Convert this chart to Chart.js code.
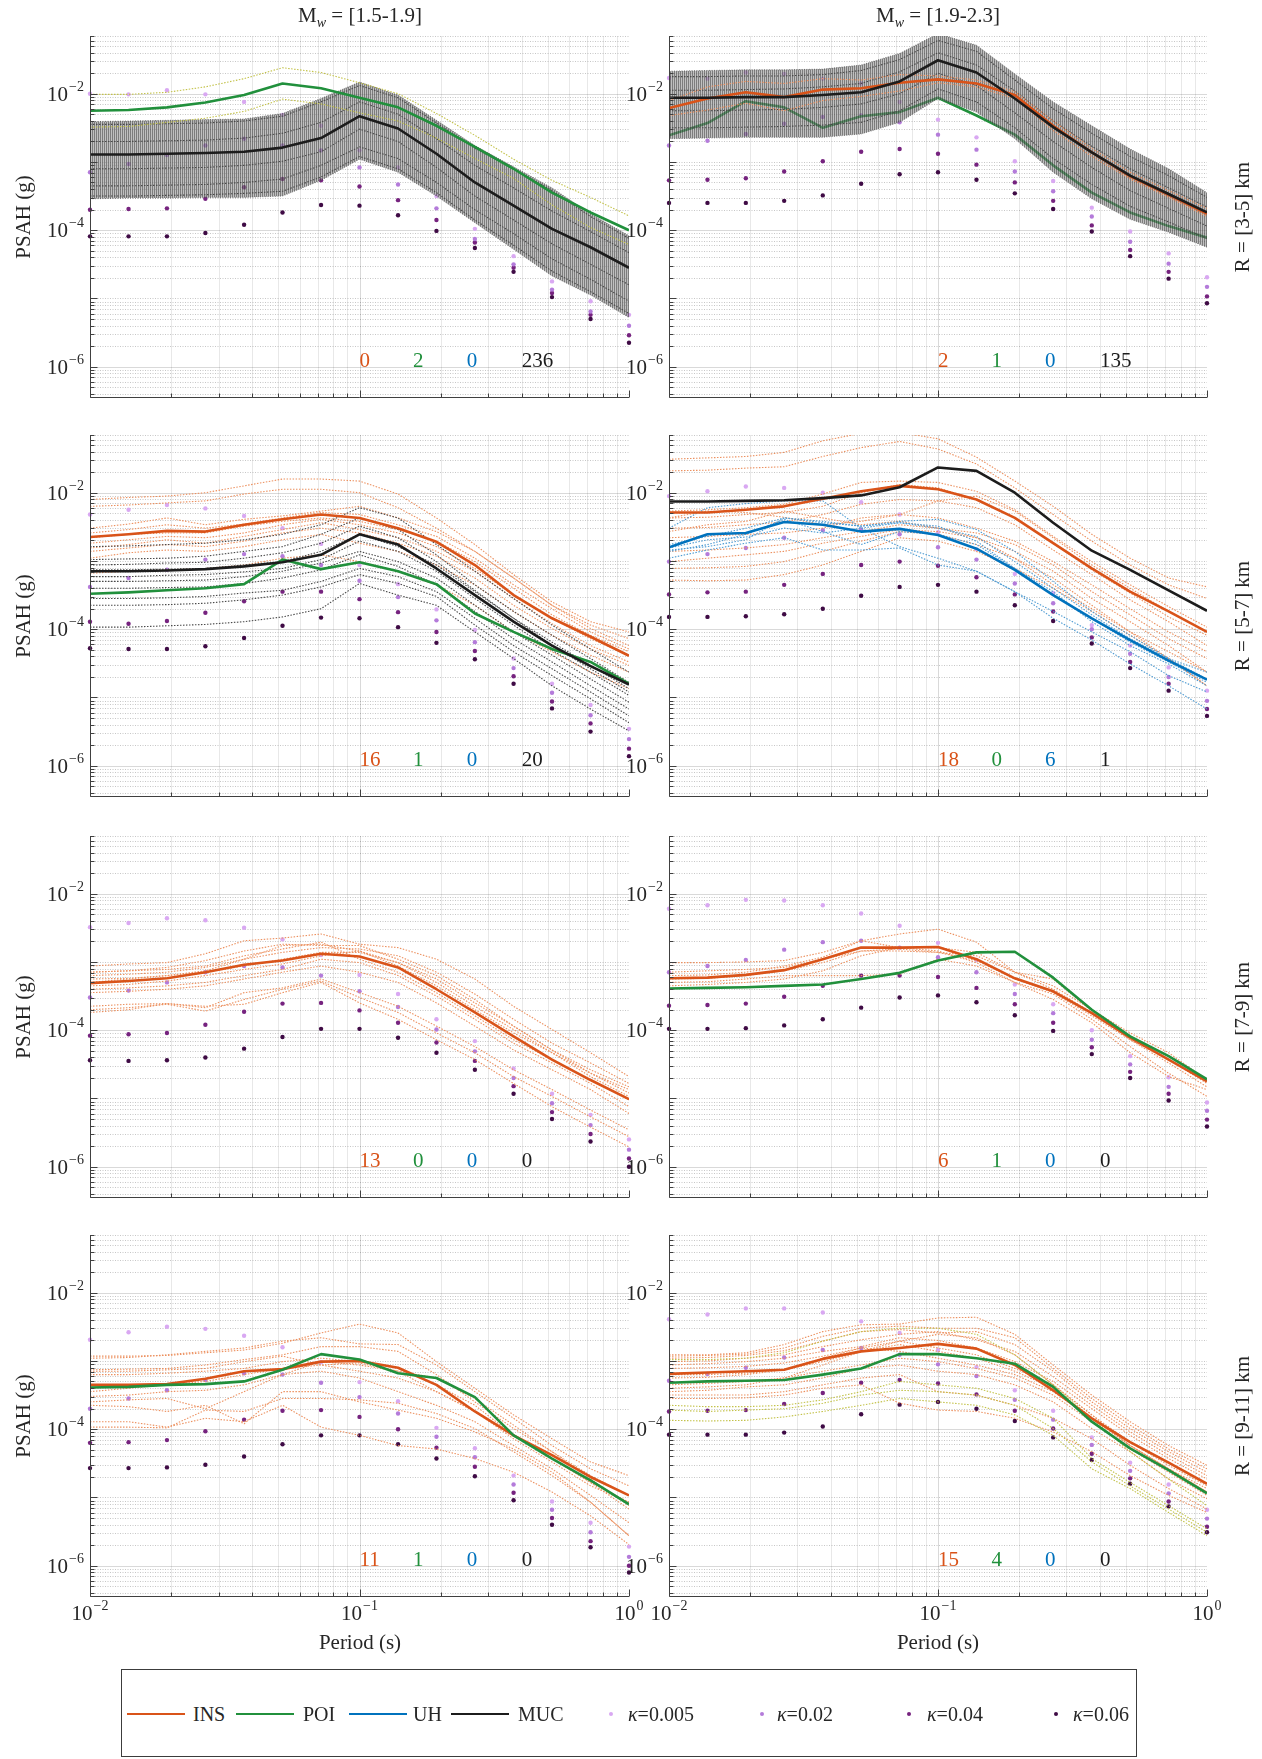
<!DOCTYPE html>
<html>
<head>
<meta charset="utf-8">
<script src="https://cdn.jsdelivr.net/npm/chart.js@4.4.1/dist/chart.umd.min.js"></script>
<style>
  body { margin: 0; background: #fff; width: 1262px; height: 1759px; position: relative; overflow: hidden;
         font-family: "Liberation Serif", "DejaVu Serif", serif; color: #262626; }
  canvas { position: absolute; }
  .lbl { position: absolute; font-size: 21px; white-space: nowrap; transform: translate(-50%, -50%); }
  .rot { transform: translate(-50%, -50%) rotate(-90deg); }
  .lg { position: absolute; font-size: 20px; white-space: nowrap; transform: translateY(-50%); }
  .lgline { position: absolute; height: 0; border-top: 2.5px solid; transform: translateY(-50%); }
  .lgdot { position: absolute; width: 4px; height: 4px; border-radius: 50%; transform: translate(-50%, -50%); }
</style>
</head>
<body>
<script>
// periods (s) of the spectral ordinates
const periods = [0.01, 0.0139, 0.0193, 0.0268, 0.0373, 0.0518, 0.072, 0.1, 0.139, 0.193, 0.268, 0.373, 0.518, 0.72, 1.0];

// all values below are log10(PSAH in g)
// ---- R = [3-5] km, Mw = [1.5-1.9]
const p11K005 = [-2.00,-2.01,-1.95,-2.01,-2.12,-2.31,-2.47,-2.83,-3.08,-3.50,-3.98,-4.38,-4.75,-5.04,-5.24];
const p11K02  = [-3.15,-3.03,-2.90,-2.76,-2.66,-2.76,-2.83,-3.08,-3.33,-3.68,-4.13,-4.50,-4.87,-5.19,-5.40];
const p11K04  = [-3.70,-3.69,-3.68,-3.54,-3.37,-3.25,-3.27,-3.36,-3.56,-3.85,-4.18,-4.55,-4.92,-5.24,-5.54];
const p11K06  = [-4.09,-4.09,-4.09,-4.04,-3.92,-3.74,-3.63,-3.64,-3.78,-4.01,-4.26,-4.61,-4.98,-5.30,-5.65];
const p11MucMedian = [-2.89,-2.89,-2.88,-2.87,-2.85,-2.79,-2.65,-2.33,-2.51,-2.88,-3.30,-3.64,-3.98,-4.25,-4.55];
const p11MucHigh = [-2.41,-2.40,-2.39,-2.38,-2.37,-2.29,-2.07,-1.83,-2.02,-2.39,-2.76,-3.07,-3.38,-3.76,-4.08];
const p11MucLow  = [-3.54,-3.53,-3.53,-3.52,-3.52,-3.50,-3.27,-2.96,-3.15,-3.50,-3.89,-4.28,-4.67,-4.95,-5.28];
const p11MucRecords = [
  [-2.45,-2.45,-2.44,-2.43,-2.40,-2.33,-2.12,-1.88,-2.06,-2.43,-2.80,-3.10,-3.42,-3.80,-4.12],
  [-2.70,-2.70,-2.69,-2.68,-2.65,-2.58,-2.42,-2.12,-2.30,-2.66,-3.05,-3.38,-3.72,-4.02,-4.33],
  [-3.10,-3.10,-3.09,-3.08,-3.05,-2.99,-2.85,-2.52,-2.70,-3.08,-3.50,-3.85,-4.20,-4.50,-4.80],
  [-3.35,-3.35,-3.34,-3.33,-3.30,-3.25,-3.05,-2.78,-2.95,-3.30,-3.70,-4.05,-4.42,-4.72,-5.04],
  [-3.50,-3.50,-3.49,-3.48,-3.46,-3.43,-3.22,-2.92,-3.10,-3.45,-3.85,-4.22,-4.60,-4.90,-5.22]
];
const p11PoiMedian = [-2.25,-2.24,-2.20,-2.13,-2.02,-1.85,-1.92,-2.06,-2.20,-2.47,-2.78,-3.10,-3.45,-3.74,-4.00];
const p11PoiRecords = [
  [-2.01,-2.01,-1.98,-1.90,-1.78,-1.62,-1.69,-1.84,-2.00,-2.29,-2.61,-2.96,-3.27,-3.52,-3.79],
  [-2.49,-2.48,-2.42,-2.36,-2.26,-2.08,-2.15,-2.28,-2.40,-2.65,-2.95,-3.24,-3.63,-3.96,-4.21]
];

// ---- R = [3-5] km, Mw = [1.9-2.3]
const p12K005 = [-1.77,-1.78,-1.69,-1.71,-1.78,-1.85,-2.12,-2.38,-2.64,-2.99,-3.28,-3.67,-4.02,-4.34,-4.69];
const p12K02  = [-2.76,-2.69,-2.59,-2.44,-2.34,-2.32,-2.42,-2.60,-2.82,-3.14,-3.43,-3.80,-4.17,-4.49,-4.83];
const p12K04  = [-3.27,-3.26,-3.24,-3.14,-2.99,-2.85,-2.81,-2.88,-3.04,-3.30,-3.57,-3.93,-4.29,-4.61,-4.97];
const p12K06  = [-3.60,-3.60,-3.60,-3.57,-3.49,-3.32,-3.18,-3.15,-3.26,-3.46,-3.69,-4.02,-4.38,-4.71,-5.07];
const p12MucMedian = [-2.06,-2.06,-2.05,-2.05,-2.02,-1.98,-1.82,-1.51,-1.69,-2.07,-2.49,-2.86,-3.20,-3.47,-3.74];
const p12MucHigh = [-1.67,-1.66,-1.65,-1.65,-1.64,-1.58,-1.41,-1.12,-1.29,-1.71,-2.12,-2.47,-2.81,-3.10,-3.45];
const p12MucLow  = [-2.66,-2.65,-2.64,-2.64,-2.64,-2.59,-2.42,-2.07,-2.27,-2.66,-3.15,-3.54,-3.84,-4.03,-4.25];
const p12MucRecords = [
  [-1.75,-1.75,-1.74,-1.74,-1.72,-1.66,-1.50,-1.22,-1.38,-1.80,-2.22,-2.58,-2.92,-3.20,-3.52],
  [-1.95,-1.95,-1.94,-1.93,-1.90,-1.85,-1.68,-1.40,-1.58,-1.96,-2.40,-2.77,-3.10,-3.38,-3.66],
  [-2.25,-2.25,-2.24,-2.23,-2.20,-2.15,-2.00,-1.70,-1.88,-2.28,-2.70,-3.08,-3.42,-3.68,-3.94],
  [-2.50,-2.50,-2.49,-2.48,-2.46,-2.42,-2.25,-1.93,-2.12,-2.50,-2.95,-3.33,-3.65,-3.88,-4.12]
];
const p12InsMedian = [-2.21,-2.07,-1.98,-2.05,-1.94,-1.92,-1.84,-1.79,-1.85,-2.02,-2.47,-2.86,-3.21,-3.48,-3.76];
const p12InsRecords = [
  [-2.10,-1.90,-1.82,-1.85,-1.78,-1.80,-1.72,-1.74,-1.80,-1.97,-2.40,-2.80,-3.15,-3.42,-3.68],
  [-2.32,-2.24,-2.14,-2.25,-2.10,-2.04,-1.96,-1.84,-1.90,-2.07,-2.54,-2.92,-3.25,-3.52,-3.80]
];
const p12PoiMedian = [-2.61,-2.43,-2.11,-2.20,-2.50,-2.33,-2.27,-2.06,-2.32,-2.60,-3.05,-3.45,-3.74,-3.94,-4.11];

// ---- R = [5-7] km, Mw = [1.5-1.9]
const p21K005 = [-2.32,-2.25,-2.18,-2.23,-2.34,-2.52,-2.75,-3.06,-3.34,-3.71,-4.01,-4.43,-4.80,-5.11,-5.46];
const p21K02  = [-3.38,-3.25,-3.13,-2.98,-2.90,-2.93,-3.06,-3.29,-3.53,-3.87,-4.19,-4.57,-4.93,-5.26,-5.61];
const p21K04  = [-3.89,-3.92,-3.88,-3.76,-3.59,-3.45,-3.45,-3.56,-3.75,-4.04,-4.32,-4.69,-5.06,-5.38,-5.75];
const p21K06  = [-4.28,-4.29,-4.29,-4.25,-4.13,-3.95,-3.83,-3.84,-3.97,-4.20,-4.44,-4.80,-5.16,-5.50,-5.86];
const p21InsMedian = [-2.65,-2.61,-2.56,-2.57,-2.47,-2.39,-2.32,-2.37,-2.52,-2.72,-3.06,-3.50,-3.84,-4.11,-4.39];
const p21InsRecords = [
  [-2.10,-2.07,-2.05,-2.00,-1.90,-1.80,-1.80,-1.83,-2.02,-2.37,-2.76,-3.20,-3.60,-3.89,-4.04],
  [-2.20,-2.18,-2.15,-2.12,-2.02,-1.95,-1.95,-2.00,-2.22,-2.52,-2.86,-3.25,-3.65,-3.94,-4.14],
  [-2.52,-2.46,-2.37,-2.47,-2.39,-2.34,-2.27,-2.20,-2.37,-2.57,-2.86,-3.25,-3.65,-3.99,-4.24],
  [-2.59,-2.54,-2.47,-2.52,-2.46,-2.37,-2.29,-2.32,-2.47,-2.64,-2.96,-3.35,-3.70,-4.04,-4.29],
  [-2.66,-2.61,-2.59,-2.59,-2.49,-2.42,-2.37,-2.42,-2.54,-2.71,-3.01,-3.40,-3.79,-4.09,-4.33],
  [-2.74,-2.69,-2.64,-2.66,-2.59,-2.47,-2.39,-2.47,-2.59,-2.79,-3.11,-3.50,-3.84,-4.14,-4.38],
  [-2.81,-2.76,-2.69,-2.74,-2.64,-2.54,-2.44,-2.54,-2.66,-2.86,-3.15,-3.55,-3.92,-4.24,-4.48],
  [-2.86,-2.81,-2.76,-2.79,-2.71,-2.59,-2.52,-2.59,-2.74,-2.93,-3.25,-3.65,-3.99,-4.29,-4.53],
  [-2.96,-2.88,-2.84,-2.86,-2.79,-2.69,-2.61,-2.74,-2.86,-3.06,-3.35,-3.74,-4.09,-4.38,-4.63],
  [-3.18,-3.15,-3.13,-3.11,-3.06,-2.96,-2.91,-3.01,-3.15,-3.35,-3.65,-4.04,-4.33,-4.63,-4.87]
];
const p21MucMedian = [-3.15,-3.15,-3.14,-3.12,-3.08,-3.02,-2.91,-2.61,-2.76,-3.11,-3.50,-3.89,-4.24,-4.54,-4.81];
const p21MucRecords = [
  [-2.79,-2.78,-2.76,-2.74,-2.69,-2.61,-2.47,-2.22,-2.37,-2.76,-3.15,-3.55,-3.94,-4.29,-4.63],
  [-2.98,-2.97,-2.96,-2.93,-2.86,-2.79,-2.61,-2.37,-2.54,-2.91,-3.35,-3.74,-4.09,-4.43,-4.78],
  [-3.06,-3.05,-3.03,-3.02,-2.96,-2.88,-2.74,-2.49,-2.66,-3.01,-3.43,-3.84,-4.19,-4.53,-4.87],
  [-3.13,-3.13,-3.12,-3.11,-3.06,-3.01,-2.86,-2.61,-2.79,-3.06,-3.45,-3.84,-4.24,-4.58,-4.92],
  [-3.23,-3.23,-3.21,-3.20,-3.16,-3.11,-2.98,-2.71,-2.86,-3.15,-3.55,-3.94,-4.31,-4.63,-4.97],
  [-3.30,-3.30,-3.29,-3.28,-3.23,-3.15,-3.03,-2.86,-3.01,-3.25,-3.65,-4.04,-4.38,-4.73,-5.07],
  [-3.40,-3.40,-3.39,-3.38,-3.33,-3.25,-3.13,-2.91,-3.08,-3.35,-3.74,-4.14,-4.48,-4.83,-5.17],
  [-3.55,-3.55,-3.54,-3.52,-3.47,-3.43,-3.30,-3.11,-3.23,-3.45,-3.84,-4.24,-4.58,-4.92,-5.27],
  [-3.65,-3.65,-3.64,-3.62,-3.57,-3.50,-3.38,-3.20,-3.33,-3.52,-3.94,-4.33,-4.68,-5.02,-5.37],
  [-3.97,-3.97,-3.95,-3.93,-3.89,-3.82,-3.70,-3.33,-3.50,-3.65,-4.04,-4.43,-4.83,-5.17,-5.49]
];
const p21PoiMedian = [-3.48,-3.46,-3.43,-3.40,-3.34,-2.98,-3.12,-3.02,-3.15,-3.34,-3.77,-4.04,-4.29,-4.48,-4.80];

// ---- R = [5-7] km, Mw = [1.9-2.3]
const p22K005 = [-2.05,-1.98,-1.91,-1.93,-2.00,-2.14,-2.32,-2.58,-2.83,-3.19,-3.47,-3.94,-4.24,-4.56,-4.90];
const p22K02  = [-3.01,-2.90,-2.81,-2.66,-2.55,-2.54,-2.61,-2.80,-2.98,-3.33,-3.62,-4.00,-4.36,-4.70,-5.05];
const p22K04  = [-3.49,-3.46,-3.45,-3.35,-3.19,-3.06,-3.01,-3.07,-3.24,-3.49,-3.74,-4.12,-4.48,-4.80,-5.17];
const p22K06  = [-3.82,-3.82,-3.81,-3.78,-3.70,-3.51,-3.38,-3.35,-3.45,-3.65,-3.88,-4.21,-4.57,-4.90,-5.27];
const p22MucMedian = [-2.13,-2.13,-2.12,-2.11,-2.08,-2.04,-1.92,-1.63,-1.68,-2.00,-2.44,-2.85,-3.13,-3.43,-3.73];
const p22InsMedian = [-2.29,-2.29,-2.25,-2.20,-2.09,-1.98,-1.90,-1.95,-2.10,-2.37,-2.74,-3.11,-3.45,-3.74,-4.04];
const p22InsRecords = [
  [-1.51,-1.49,-1.47,-1.41,-1.24,-1.13,-1.12,-1.21,-1.48,-1.83,-2.20,-2.61,-2.96,-3.25,-3.38],
  [-1.68,-1.67,-1.64,-1.62,-1.47,-1.34,-1.25,-1.36,-1.58,-1.93,-2.32,-2.71,-3.06,-3.35,-3.55],
  [-2.27,-2.25,-2.22,-2.17,-2.02,-1.85,-1.83,-1.85,-1.98,-2.25,-2.64,-3.01,-3.35,-3.67,-3.97],
  [-2.37,-2.36,-2.32,-2.29,-2.20,-2.00,-1.88,-1.93,-2.10,-2.37,-2.74,-3.13,-3.47,-3.82,-4.09],
  [-2.52,-2.51,-2.47,-2.43,-2.32,-2.17,-2.10,-2.12,-2.22,-2.47,-2.84,-3.20,-3.57,-3.89,-4.24],
  [-2.66,-2.64,-2.61,-2.59,-2.52,-2.37,-2.32,-2.37,-2.52,-2.71,-3.01,-3.35,-3.70,-4.04,-4.33],
  [-2.86,-2.84,-2.81,-2.76,-2.66,-2.57,-2.47,-2.52,-2.59,-2.76,-3.06,-3.45,-3.79,-4.14,-4.43],
  [-3.01,-2.96,-2.91,-2.86,-2.74,-2.64,-2.54,-2.57,-2.66,-2.86,-3.15,-3.55,-3.89,-4.24,-4.63],
  [-3.11,-3.10,-3.08,-3.01,-2.86,-2.71,-2.57,-2.61,-2.76,-2.96,-3.25,-3.65,-4.04,-4.43,-4.83],
  [-3.28,-3.29,-3.28,-3.20,-3.06,-2.86,-2.66,-2.71,-2.86,-3.11,-3.40,-3.74,-4.09,-4.43,-4.83],
  [-2.37,-2.27,-2.29,-2.36,-2.47,-2.42,-2.32,-2.12,-2.05,-2.27,-2.66,-3.06,-3.40,-3.74,-4.04],
  [-2.57,-2.47,-2.42,-2.27,-2.37,-2.47,-2.42,-2.52,-2.66,-2.96,-3.35,-3.70,-4.04,-4.33,-4.63]
];
const p22UhMedian = [-2.80,-2.61,-2.59,-2.43,-2.47,-2.57,-2.53,-2.62,-2.82,-3.13,-3.50,-3.84,-4.16,-4.46,-4.74];
const p22UhRecords = [
  [-2.84,-2.79,-2.69,-2.37,-2.44,-2.49,-2.42,-2.39,-2.54,-2.86,-3.30,-3.74,-4.09,-4.43,-4.73],
  [-2.52,-2.22,-2.16,-2.12,-2.12,-2.52,-2.79,-2.96,-3.15,-3.45,-3.84,-4.16,-4.51,-4.83,-5.17],
  [-2.86,-2.76,-2.61,-2.39,-2.57,-2.76,-2.57,-2.61,-2.76,-3.11,-3.45,-3.89,-4.24,-4.51,-4.83],
  [-2.81,-2.69,-2.65,-2.52,-2.59,-2.52,-2.44,-2.52,-2.64,-3.01,-3.40,-3.79,-4.14,-4.43,-4.63],
  [-2.96,-2.84,-2.74,-2.66,-2.84,-2.84,-2.81,-3.06,-3.15,-3.45,-3.74,-4.04,-4.33,-4.68,-4.92],
  [-2.76,-2.64,-2.52,-2.37,-2.42,-2.49,-2.44,-2.49,-2.71,-3.11,-3.50,-3.84,-4.19,-4.48,-4.78]
];

// ---- R = [7-9] km, Mw = [1.5-1.9]
const p31K005 = [-2.49,-2.43,-2.36,-2.39,-2.50,-2.67,-2.90,-3.19,-3.47,-3.84,-4.16,-4.56,-4.93,-5.24,-5.60];
const p31K02  = [-3.52,-3.42,-3.30,-3.15,-3.06,-3.08,-3.20,-3.43,-3.66,-3.99,-4.31,-4.70,-5.07,-5.39,-5.75];
const p31K04  = [-4.08,-4.06,-4.04,-3.92,-3.73,-3.61,-3.60,-3.71,-3.89,-4.18,-4.45,-4.82,-5.20,-5.52,-5.88];
const p31K06  = [-4.44,-4.45,-4.44,-4.40,-4.27,-4.10,-3.98,-3.98,-4.11,-4.33,-4.58,-4.93,-5.30,-5.63,-6.00];
const p31InsMedian = [-3.31,-3.28,-3.24,-3.15,-3.04,-2.98,-2.88,-2.92,-3.08,-3.40,-3.74,-4.09,-4.43,-4.73,-5.01];
const p31InsRecords = [
  [-3.06,-3.03,-3.01,-2.88,-2.69,-2.65,-2.59,-2.74,-2.79,-2.96,-3.25,-3.65,-3.99,-4.33,-4.68],
  [-3.15,-3.13,-3.08,-2.98,-2.84,-2.74,-2.76,-2.76,-2.96,-3.20,-3.55,-3.94,-4.29,-4.58,-4.83],
  [-3.20,-3.18,-3.15,-3.08,-2.96,-2.86,-2.79,-2.81,-2.91,-3.15,-3.47,-3.84,-4.19,-4.48,-4.78],
  [-3.25,-3.24,-3.20,-3.15,-3.06,-2.96,-2.86,-2.86,-3.01,-3.25,-3.60,-3.94,-4.29,-4.63,-4.92],
  [-3.35,-3.33,-3.28,-3.20,-3.11,-3.03,-2.91,-2.84,-3.06,-3.35,-3.70,-4.04,-4.33,-4.63,-4.87],
  [-3.40,-3.38,-3.35,-3.30,-3.20,-3.11,-2.96,-3.01,-3.20,-3.50,-3.84,-4.19,-4.48,-4.78,-5.12],
  [-3.45,-3.43,-3.40,-3.35,-3.25,-3.15,-3.06,-3.15,-3.30,-3.60,-3.94,-4.29,-4.58,-4.87,-5.22],
  [-3.65,-3.62,-3.61,-3.67,-3.45,-3.38,-3.25,-3.45,-3.65,-3.94,-4.24,-4.58,-4.87,-5.17,-5.46],
  [-3.70,-3.67,-3.62,-3.72,-3.55,-3.40,-3.28,-3.52,-3.74,-4.04,-4.33,-4.68,-4.97,-5.27,-5.56],
  [-3.74,-3.70,-3.61,-3.65,-3.62,-3.45,-3.30,-3.60,-3.84,-4.14,-4.43,-4.78,-5.12,-5.42,-5.71],
  [-3.15,-3.13,-3.11,-3.06,-2.91,-2.81,-2.71,-2.96,-3.15,-3.45,-3.79,-4.14,-4.43,-4.73,-5.02],
  [-3.30,-3.25,-3.20,-3.13,-2.96,-2.76,-2.74,-2.84,-3.01,-3.30,-3.65,-3.99,-4.33,-4.68,-4.97]
];

// ---- R = [7-9] km, Mw = [1.9-2.3]
const p32K005 = [-2.22,-2.17,-2.09,-2.10,-2.17,-2.29,-2.47,-2.72,-2.97,-3.33,-3.62,-4.00,-4.38,-4.69,-5.06];
const p32K02  = [-3.15,-3.06,-2.97,-2.82,-2.71,-2.69,-2.79,-2.93,-3.15,-3.47,-3.75,-4.14,-4.50,-4.83,-5.18];
const p32K04  = [-3.64,-3.63,-3.61,-3.51,-3.35,-3.20,-3.20,-3.22,-3.38,-3.62,-3.89,-4.25,-4.61,-4.93,-5.31];
const p32K06  = [-3.98,-3.98,-3.97,-3.93,-3.84,-3.67,-3.52,-3.49,-3.59,-3.78,-4.01,-4.35,-4.70,-5.03,-5.41];
const p32InsMedian = [-3.24,-3.23,-3.19,-3.12,-2.96,-2.79,-2.79,-2.78,-2.96,-3.24,-3.43,-3.75,-4.11,-4.43,-4.75];
const p32InsRecords = [
  [-3.01,-3.01,-3.00,-2.98,-2.86,-2.69,-2.59,-2.52,-2.71,-3.15,-3.25,-3.72,-4.14,-4.43,-4.78],
  [-3.20,-3.19,-3.15,-3.06,-2.93,-2.69,-2.79,-2.79,-2.86,-3.15,-3.40,-3.74,-4.09,-4.38,-4.73],
  [-3.25,-3.24,-3.20,-3.13,-3.01,-2.84,-2.81,-2.86,-2.98,-3.25,-3.45,-3.79,-4.14,-4.48,-4.83],
  [-3.30,-3.29,-3.25,-3.20,-3.20,-3.20,-3.18,-2.96,-3.06,-3.30,-3.47,-3.84,-4.24,-4.63,-4.97],
  [-3.15,-3.13,-3.11,-3.08,-2.96,-2.84,-2.84,-2.86,-2.91,-3.15,-3.35,-3.70,-4.04,-4.33,-4.73],
  [-3.35,-3.33,-3.30,-3.25,-3.13,-2.91,-2.79,-2.84,-3.01,-3.30,-3.55,-3.89,-4.33,-4.68,-4.87]
];
const p32PoiMedian = [-3.39,-3.38,-3.37,-3.35,-3.33,-3.25,-3.16,-2.98,-2.86,-2.85,-3.23,-3.70,-4.09,-4.38,-4.72];

// ---- R = [9-11] km, Mw = [1.5-1.9]
const p41K005 = [-2.69,-2.58,-2.50,-2.53,-2.63,-2.80,-3.02,-3.31,-3.59,-3.98,-4.28,-4.68,-5.06,-5.37,-5.72];
const p41K02  = [-3.70,-3.55,-3.43,-3.28,-3.18,-3.20,-3.32,-3.53,-3.77,-4.11,-4.41,-4.81,-5.18,-5.51,-5.87];
const p41K04  = [-4.20,-4.19,-4.16,-4.03,-3.86,-3.73,-3.72,-3.82,-4.00,-4.27,-4.55,-4.93,-5.30,-5.64,-6.00];
const p41K06  = [-4.57,-4.57,-4.56,-4.52,-4.40,-4.22,-4.09,-4.09,-4.22,-4.43,-4.69,-5.04,-5.40,-5.73,-6.10];
const p41InsMedian = [-3.35,-3.35,-3.34,-3.26,-3.15,-3.12,-3.01,-3.00,-3.10,-3.35,-3.74,-4.09,-4.38,-4.70,-4.97];
const p41InsRecords = [
  [-2.93,-2.93,-2.92,-2.88,-2.84,-2.74,-2.59,-2.46,-2.59,-3.01,-3.40,-3.79,-4.14,-4.48,-4.68],
  [-2.96,-2.95,-2.91,-2.86,-2.81,-2.71,-2.66,-2.75,-2.76,-3.06,-3.45,-3.84,-4.24,-4.58,-4.83],
  [-3.13,-3.12,-3.11,-3.06,-2.98,-2.91,-2.79,-2.79,-2.86,-3.20,-3.60,-3.99,-4.33,-4.68,-4.97],
  [-3.15,-3.15,-3.13,-3.11,-3.01,-2.93,-3.06,-3.03,-3.15,-3.45,-3.74,-4.14,-4.48,-4.83,-5.07],
  [-3.20,-3.20,-3.18,-3.15,-3.11,-3.01,-2.96,-3.01,-3.11,-3.35,-3.65,-4.09,-4.43,-4.78,-5.07],
  [-3.45,-3.40,-3.35,-3.30,-3.20,-3.11,-3.06,-3.15,-3.25,-3.45,-3.74,-4.09,-4.43,-4.78,-5.17],
  [-3.52,-3.50,-3.45,-3.43,-3.35,-3.20,-3.01,-3.06,-3.15,-3.25,-3.55,-3.94,-4.33,-4.73,-5.12],
  [-3.60,-3.57,-3.55,-3.70,-3.45,-3.20,-3.15,-3.25,-3.45,-3.65,-3.89,-4.24,-4.58,-4.97,-5.37],
  [-3.65,-3.67,-3.74,-3.65,-3.92,-3.45,-3.45,-3.60,-3.72,-3.84,-4.04,-4.29,-4.63,-5.07,-5.56],
  [-3.89,-3.89,-3.97,-3.84,-3.89,-3.65,-3.97,-4.09,-4.24,-4.29,-4.43,-4.63,-4.92,-5.27,-5.69],
  [-3.97,-3.97,-3.98,-3.72,-3.74,-3.55,-3.55,-3.57,-3.62,-3.77,-3.99,-4.33,-4.68,-5.07,-5.56]
];
const p41PoiMedian = [-3.39,-3.38,-3.35,-3.34,-3.30,-3.13,-2.90,-2.98,-3.18,-3.25,-3.53,-4.09,-4.43,-4.75,-5.10];

// ---- R = [9-11] km, Mw = [1.9-2.3]
const p42K005 = [-2.39,-2.32,-2.23,-2.23,-2.29,-2.42,-2.59,-2.84,-3.09,-3.43,-3.73,-4.12,-4.49,-4.81,-5.18];
const p42K02  = [-3.29,-3.19,-3.10,-2.95,-2.84,-2.81,-2.91,-3.05,-3.22,-3.57,-3.86,-4.23,-4.61,-4.94,-5.31];
const p42K04  = [-3.74,-3.73,-3.72,-3.63,-3.47,-3.32,-3.28,-3.33,-3.49,-3.73,-3.99,-4.36,-4.72,-5.06,-5.43];
const p42K06  = [-4.08,-4.08,-4.08,-4.05,-3.96,-3.78,-3.64,-3.60,-3.70,-3.88,-4.12,-4.45,-4.80,-5.13,-5.51];
const p42InsMedian = [-3.19,-3.17,-3.15,-3.13,-2.97,-2.86,-2.81,-2.75,-2.82,-3.06,-3.43,-3.84,-4.19,-4.49,-4.80];
const p42InsRecords = [
  [-2.91,-2.91,-2.88,-2.76,-2.57,-2.47,-2.46,-2.37,-2.36,-2.61,-3.06,-3.50,-3.89,-4.24,-4.53],
  [-2.93,-2.92,-2.90,-2.81,-2.64,-2.52,-2.49,-2.52,-2.52,-2.66,-3.11,-3.55,-3.94,-4.29,-4.58],
  [-2.96,-2.95,-2.92,-2.85,-2.71,-2.57,-2.54,-2.59,-2.57,-2.76,-3.15,-3.60,-3.99,-4.33,-4.63],
  [-3.01,-3.00,-2.96,-2.91,-2.79,-2.69,-2.61,-2.57,-2.69,-2.86,-3.23,-3.65,-4.04,-4.38,-4.68],
  [-3.06,-3.04,-3.01,-2.96,-2.86,-2.79,-2.66,-2.70,-2.81,-3.01,-3.30,-3.70,-4.09,-4.43,-4.73],
  [-3.11,-3.10,-3.08,-3.03,-2.93,-2.81,-2.71,-2.81,-2.91,-3.11,-3.35,-3.79,-4.19,-4.53,-4.83],
  [-3.20,-3.20,-3.18,-3.13,-3.01,-2.86,-2.76,-2.86,-2.96,-3.15,-3.40,-3.84,-4.24,-4.58,-4.92],
  [-3.35,-3.33,-3.30,-3.25,-3.15,-3.06,-2.96,-3.01,-3.11,-3.25,-3.50,-3.89,-4.29,-4.63,-4.97],
  [-3.45,-3.43,-3.38,-3.35,-3.25,-3.11,-3.06,-3.15,-3.20,-3.35,-3.60,-3.99,-4.33,-4.73,-5.02],
  [-3.50,-3.50,-3.50,-3.45,-3.35,-3.25,-3.20,-3.45,-3.50,-3.65,-3.84,-4.14,-4.53,-4.87,-5.17],
  [-3.55,-3.55,-3.54,-3.50,-3.40,-3.35,-3.62,-3.72,-3.74,-3.84,-4.04,-4.33,-4.68,-4.97,-5.22],
  [-3.40,-3.38,-3.35,-3.25,-3.06,-2.86,-2.71,-2.61,-2.66,-2.91,-3.35,-3.79,-4.24,-4.58,-4.92],
  [-3.25,-3.24,-3.20,-3.13,-2.96,-2.81,-2.86,-2.96,-3.06,-3.20,-3.45,-3.84,-4.24,-4.58,-4.87]
];
const p42PoiMedian = [-3.32,-3.30,-3.29,-3.28,-3.20,-3.11,-2.90,-2.90,-2.96,-3.04,-3.38,-3.89,-4.28,-4.60,-4.94];
const p42PoiRecords = [
  [-2.98,-2.98,-2.96,-2.88,-2.71,-2.57,-2.52,-2.52,-2.61,-2.91,-3.35,-3.84,-4.33,-4.73,-5.12],
  [-3.65,-3.67,-3.67,-3.65,-3.57,-3.45,-3.30,-3.35,-3.40,-3.55,-3.84,-4.43,-4.78,-5.12,-5.46],
  [-3.72,-3.74,-3.72,-3.70,-3.62,-3.50,-3.43,-3.45,-3.50,-3.65,-3.99,-4.48,-4.83,-5.17,-5.51],
  [-3.87,-3.88,-3.87,-3.82,-3.74,-3.65,-3.55,-3.60,-3.65,-3.79,-4.09,-4.58,-4.87,-5.22,-5.56]
];

// number of records per network (INS, POI, UH, MUC)
const counts = [[0, 2, 0, 236], [2, 1, 0, 135], [16, 1, 0, 20], [18, 0, 6, 1],
                [13, 0, 0, 0], [6, 1, 0, 0], [11, 1, 0, 0], [15, 4, 0, 0]];
const magBins = ['[1.5-1.9]', '[1.9-2.3]'];
const distBins = ['[3-5]', '[5-7]', '[7-9]', '[9-11]'];
const kappaLabels = ['0.005', '0.02', '0.04', '0.06'];
const networks = ['INS', 'POI', 'UH', 'MUC'];

// colours
const INS = '#D95319', POI = '#21903C', UH = '#0072BD', MUC = '#1C1C1C';
const INS_REC = '#EC9160', POI_REC = '#C3C24A', UH_REC = '#4E9BD2', MUC_REC = '#4A4A4A';
const KAPPA_COLORS = ['#D9A8F2', '#B47BDA', '#76237F', '#3F0B45'];
const NET_COLORS = [INS, POI, UH, MUC];

// axes limits and count label placement
const X_MIN = 0.01, X_MAX = 1;
const Y_MIN = 3.6e-7, Y_MAX = 0.07;
const countX = [0.1, 0.158, 0.25, 0.4];
const countY = 1.2e-6;

const ROW_TOPS = [36, 435, 836, 1235];
const PLOT_H = 361;

const panels = [
  { dots: [p11K005, p11K02, p11K04, p11K06], band: [p11MucHigh, p11MucLow],
    records: [[POI_REC, p11PoiRecords], [MUC_REC, p11MucRecords]],
    medians: [[POI, p11PoiMedian], [MUC, p11MucMedian]] },
  { dots: [p12K005, p12K02, p12K04, p12K06], band: [p12MucHigh, p12MucLow],
    records: [[INS_REC, p12InsRecords], [MUC_REC, p12MucRecords]],
    medians: [[MUC, p12MucMedian], [INS, p12InsMedian], [POI, p12PoiMedian, 2.5]] },
  { dots: [p21K005, p21K02, p21K04, p21K06],
    records: [[MUC_REC, p21MucRecords], [INS_REC, p21InsRecords]],
    medians: [[MUC, p21MucMedian], [POI, p21PoiMedian], [INS, p21InsMedian]] },
  { dots: [p22K005, p22K02, p22K04, p22K06],
    records: [[UH_REC, p22UhRecords], [INS_REC, p22InsRecords]],
    medians: [[MUC, p22MucMedian], [UH, p22UhMedian], [INS, p22InsMedian]] },
  { dots: [p31K005, p31K02, p31K04, p31K06],
    records: [[INS_REC, p31InsRecords]],
    medians: [[INS, p31InsMedian]] },
  { dots: [p32K005, p32K02, p32K04, p32K06],
    records: [[INS_REC, p32InsRecords]],
    medians: [[POI, p32PoiMedian], [INS, p32InsMedian]] },
  { dots: [p41K005, p41K02, p41K04, p41K06],
    records: [[INS_REC, p41InsRecords]],
    medians: [[POI, p41PoiMedian], [INS, p41InsMedian]] },
  { dots: [p42K005, p42K02, p42K04, p42K06],
    records: [[POI_REC, p42PoiRecords], [INS_REC, p42InsRecords]],
    medians: [[POI, p42PoiMedian], [INS, p42InsMedian]] }
];

// grid / tick positions in data units
const xGrid = [], yGrid = [];
for (let e = -2; e <= 0; e++) for (let k = 1; k <= 9; k++) {
  const v = k * Math.pow(10, e);
  if (v >= X_MIN - 1e-12 && v <= X_MAX + 1e-12) xGrid.push({ v, major: k === 1 });
}
for (let e = -7; e <= -2; e++) for (let k = 1; k <= 9; k++) {
  const v = k * Math.pow(10, e);
  if (v >= Y_MIN && v <= Y_MAX) yGrid.push({ v, major: k === 1 && (e === -2 || e === -4 || e === -6) });
}

const SERIF = '"Liberation Serif", "DejaVu Serif", serif';

function drawPower(ctx, exp, x, yMid, align) {
  const base = '10', sup = exp < 0 ? '\u2212' + (-exp) : String(exp);
  ctx.font = '21px ' + SERIF;
  const w1 = ctx.measureText(base).width;
  ctx.font = '14px ' + SERIF;
  const w2 = ctx.measureText(sup).width;
  const x0 = align === 'right' ? x - w1 - w2 - 1 : x - (w1 + w2 + 1) / 2;
  ctx.textAlign = 'left';
  ctx.textBaseline = 'alphabetic';
  ctx.fillStyle = '#262626';
  ctx.font = '21px ' + SERIF;
  ctx.fillText(base, x0, yMid + 7);
  ctx.font = '14px ' + SERIF;
  ctx.fillText(sup, x0 + w1 + 1, yMid - 3);
}

const matlabAxes = {
  id: 'matlabAxes',
  beforeDatasetsDraw(chart) {
    const { ctx, chartArea: a, scales: { x, y } } = chart;
    ctx.save();
    ctx.beginPath();
    ctx.rect(a.left, a.top, a.right - a.left, a.bottom - a.top);
    ctx.clip();
    ctx.lineWidth = 1;
    // minor grid
    ctx.strokeStyle = 'rgba(0,0,0,0.09)';
    for (const g of xGrid) {
      if (g.major) continue;
      const px = Math.round(x.getPixelForValue(g.v)) + 0.5;
      ctx.beginPath(); ctx.moveTo(px, a.top); ctx.lineTo(px, a.bottom); ctx.stroke();
    }
    ctx.setLineDash([1, 1.5]);
    ctx.strokeStyle = 'rgba(0,0,0,0.22)';
    for (const g of yGrid) {
      if (g.major) continue;
      const py = Math.round(y.getPixelForValue(g.v)) + 0.5;
      ctx.beginPath(); ctx.moveTo(a.left, py); ctx.lineTo(a.right, py); ctx.stroke();
    }
    ctx.setLineDash([]);
    // major grid
    ctx.strokeStyle = 'rgba(0,0,0,0.15)';
    for (const g of xGrid) {
      if (!g.major) continue;
      const px = Math.round(x.getPixelForValue(g.v)) + 0.5;
      ctx.beginPath(); ctx.moveTo(px, a.top); ctx.lineTo(px, a.bottom); ctx.stroke();
    }
    for (const g of yGrid) {
      if (!g.major) continue;
      const py = Math.round(y.getPixelForValue(g.v)) + 0.5;
      ctx.beginPath(); ctx.moveTo(a.left, py); ctx.lineTo(a.right, py); ctx.stroke();
    }
    ctx.restore();
  },
  afterDatasetsDraw(chart, args, opts) {
    const { ctx, chartArea: a, scales: { x, y } } = chart;
    ctx.save();
    // axis lines and inward ticks (box off)
    ctx.strokeStyle = '#404040';
    ctx.lineWidth = 1;
    const lx = Math.round(a.left) + 0.5, by = Math.round(a.bottom) + 0.5;
    ctx.beginPath();
    ctx.moveTo(lx, a.top); ctx.lineTo(lx, by); ctx.lineTo(a.right, by);
    for (const g of yGrid) {
      const py = Math.round(y.getPixelForValue(g.v)) + 0.5;
      const len = g.major || g.v === 1e-3 || g.v === 1e-5 ? 7 : 4;
      ctx.moveTo(lx, py); ctx.lineTo(lx + len, py);
    }
    for (const g of xGrid) {
      const px = Math.round(x.getPixelForValue(g.v)) + 0.5;
      const len = g.major ? 7 : 4;
      ctx.moveTo(px, by); ctx.lineTo(px, by - len);
    }
    ctx.stroke();
    // tick labels
    for (const e of [-2, -4, -6]) drawPower(ctx, e, a.left - 6, y.getPixelForValue(Math.pow(10, e)), 'right');
    if (opts.xLabels) {
      for (const e of [-2, -1, 0]) drawPower(ctx, e, x.getPixelForValue(Math.pow(10, e)), a.bottom + 17, 'center');
    }
    // record counts per network
    ctx.font = '21px ' + SERIF;
    ctx.textAlign = 'left';
    ctx.textBaseline = 'middle';
    opts.counts.forEach((n, i) => {
      ctx.fillStyle = NET_COLORS[i];
      ctx.fillText(String(n), x.getPixelForValue(countX[i]), y.getPixelForValue(countY));
    });
    ctx.restore();
  }
};

function pts(arr) {
  return arr.map((v, i) => ({ x: periods[i], y: Math.pow(10, v) }));
}

function stripePattern(ctx) {
  const tile = document.createElement('canvas');
  tile.width = 2; tile.height = 2;
  const g = tile.getContext('2d');
  g.fillStyle = 'rgba(75,75,75,0.72)'; g.fillRect(0, 0, 1, 2);
  g.fillStyle = 'rgba(140,140,140,0.55)'; g.fillRect(1, 0, 1, 2);
  return ctx.createPattern(tile, 'repeat');
}

function makePanel(idx) {
  const p = panels[idx];
  const row = Math.floor(idx / 2), col = idx % 2;
  const plotLeft = col ? 669 : 90, plotW = col ? 538 : 539;
  const cvLeft = col ? 590 : 0, cvW = col ? 672 : 660;
  const plotTop = ROW_TOPS[row];
  const cvTop = plotTop - 30, cvH = row === 3 ? 425 : 400;

  const canvas = document.createElement('canvas');
  canvas.width = cvW; canvas.height = cvH;
  canvas.style.left = cvLeft + 'px'; canvas.style.top = cvTop + 'px';
  canvas.style.width = cvW + 'px'; canvas.style.height = cvH + 'px';
  document.body.appendChild(canvas);
  const ctx = canvas.getContext('2d');

  const datasets = [];
  // thick medians on top
  p.medians.forEach(([color, data, order]) => {
    datasets.push({ data: pts(data), borderColor: color, borderWidth: 2.6, pointRadius: 0,
                    order: order === undefined ? 0 : order, borderJoinStyle: 'round' });
  });
  // individual records, dotted
  p.records.forEach(([color, list]) => {
    list.forEach(r => datasets.push({ data: pts(r), borderColor: color, borderWidth: 1.1,
                                      borderDash: [1.5, 1.5], pointRadius: 0, order: 1 }));
  });
  // dense MUC cloud drawn as a hatched envelope
  if (p.band) {
    datasets.push({ data: pts(p.band[0]), borderColor: 'rgba(60,60,60,0.6)', borderWidth: 1,
                    borderDash: [1, 1.5], backgroundColor: stripePattern(ctx), fill: '+1', pointRadius: 0, order: 2 });
    datasets.push({ data: pts(p.band[1]), borderColor: 'rgba(60,60,60,0.6)', borderWidth: 1,
                    borderDash: [1, 1.5], fill: false, pointRadius: 0, order: 2 });
  }
  // kappa model dots
  p.dots.forEach((d, k) => {
    datasets.push({ data: pts(d), showLine: false, pointRadius: 2.2, pointBorderWidth: 0,
                    pointBackgroundColor: KAPPA_COLORS[k], backgroundColor: KAPPA_COLORS[k], order: 3, clip: 6 });
  });

  new Chart(canvas, {
    type: 'line',
    data: { datasets },
    options: {
      responsive: false,
      animation: false,
      devicePixelRatio: 1,
      events: [],
      layout: { padding: { left: plotLeft - cvLeft, right: cvW - (plotLeft - cvLeft) - plotW,
                           top: 30, bottom: cvH - 30 - PLOT_H } },
      scales: {
        x: { type: 'logarithmic', min: X_MIN, max: X_MAX, display: false },
        y: { type: 'logarithmic', min: Y_MIN, max: Y_MAX, display: false }
      },
      plugins: {
        legend: { display: false },
        tooltip: { enabled: false },
        matlabAxes: { counts: counts[idx], xLabels: row === 3 }
      }
    },
    plugins: [matlabAxes]
  });
}

function addLabel(html, left, top, cls) {
  const d = document.createElement('div');
  d.className = cls || 'lbl';
  d.style.left = left + 'px';
  d.style.top = top + 'px';
  d.innerHTML = html;
  document.body.appendChild(d);
  return d;
}

for (let i = 0; i < panels.length; i++) makePanel(i);

// titles, axis labels, row labels
addLabel('M<sub style="font-size:14px"><i>w</i></sub> = ' + magBins[0], 360, 17);
addLabel('M<sub style="font-size:14px"><i>w</i></sub> = ' + magBins[1], 938, 17);
ROW_TOPS.forEach((t, r) => {
  addLabel('PSAH (g)', 23, t + PLOT_H / 2, 'lbl rot');
  addLabel('R = ' + distBins[r] + ' km', 1242, t + PLOT_H / 2, 'lbl rot');
});
addLabel('Period (s)', 360, 1642);
addLabel('Period (s)', 938, 1642);

// legend
const box = document.createElement('div');
box.style.cssText = 'position:absolute;left:121px;top:1669px;width:1016px;height:88px;border:1px solid #3c3c3c;box-sizing:border-box;';
document.body.appendChild(box);
const LG_Y = 1714;
const lineX = [127, 236, 349, 451], textX = [193, 303, 413, 518];
networks.forEach((n, i) => {
  const l = document.createElement('div');
  l.className = 'lgline';
  l.style.cssText += 'left:' + lineX[i] + 'px;top:' + LG_Y + 'px;width:58px;border-color:' + NET_COLORS[i] + ';';
  document.body.appendChild(l);
  addLabel(n, textX[i], LG_Y, 'lg');
});
const dotX = [611, 762, 909, 1056], ktextX = [628, 777, 927, 1073];
kappaLabels.forEach((k, i) => {
  const d = document.createElement('div');
  d.className = 'lgdot';
  d.style.left = dotX[i] + 'px'; d.style.top = LG_Y + 'px'; d.style.background = KAPPA_COLORS[i];
  document.body.appendChild(d);
  addLabel('<i>\u03BA</i>=' + k, ktextX[i], LG_Y, 'lg');
});
</script>
</body>
</html>
